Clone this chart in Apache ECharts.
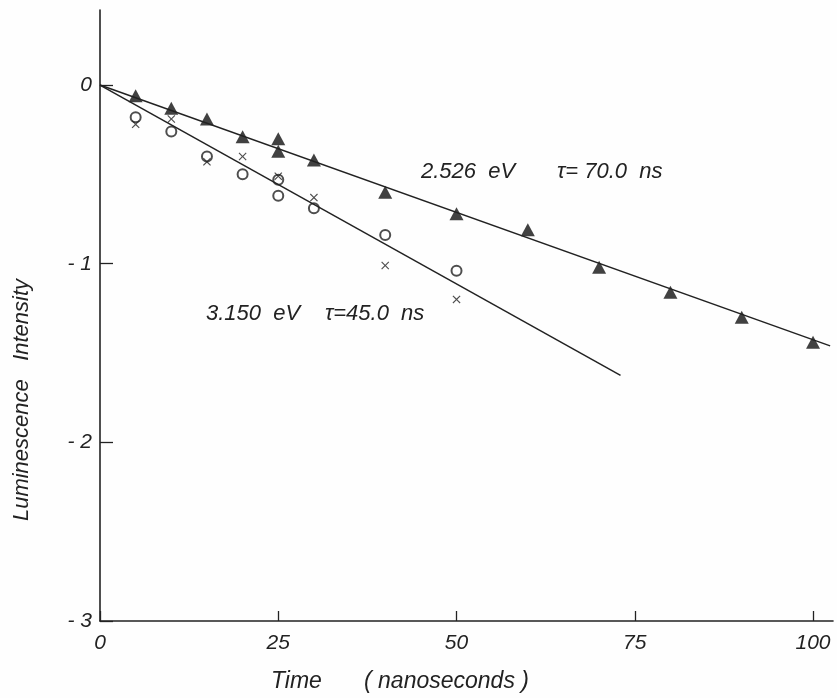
<!DOCTYPE html>
<html>
<head>
    <meta charset="UTF-8">
    <title>Luminescence decay</title>
    <script src="https://cdn.jsdelivr.net/npm/echarts@6/dist/echarts.min.js"></script>
    <style>
        html, body { margin: 0; padding: 0; background: #fefefe; }
        #main { width: 837px; height: 698px; }
    </style>
</head>
<body>
<div id="main"></div>
<script>
    // data
    const xTicks = [0, 25, 50, 75, 100];
    const yTicks = [-3, -2, -1, 0];

    // 2.526 eV (filled triangles)
    const tri = [[5, -0.06], [10, -0.13], [15, -0.19], [20, -0.29], [25, -0.30], [25, -0.37],
        [30, -0.42], [40, -0.60], [50, -0.72], [60, -0.81], [70, -1.02], [80, -1.16],
        [90, -1.30], [100, -1.44]];
    // 3.150 eV (open circles and crosses)
    const circ = [[5, -0.18], [10, -0.26], [15, -0.40], [20, -0.50], [25, -0.53], [25, -0.62],
        [30, -0.69], [40, -0.84], [50, -1.04]];
    const cross = [[5, -0.22], [10, -0.19], [15, -0.43], [20, -0.40], [25, -0.51],
        [30, -0.63], [40, -1.01], [50, -1.20]];
    // fitted lines
    const fit70 = [[0, 0], [102.4, -1.46]];
    const fit45 = [[0, 0], [73, -1.625]];

    const ink = '#222';
    const font = 'Liberation Sans';
    const crossPath = 'path://M1,0 L5,4 L9,0 L10,1 L6,5 L10,9 L9,10 L5,6 L1,10 L0,9 L4,5 L0,1 Z';
    const txt = 'italic 22px "Liberation Sans"';

    let myChart = echarts.init(document.getElementById('main'), null, {renderer: 'canvas'});

    let option = {
        backgroundColor: '#fefefe',
        animation: false,
        grid: {left: 100, right: 4, top: 10, bottom: 77},
        xAxis: {
            type: 'value',
            min: 0,
            max: 102.8,
            interval: 25,
            axisLine: {onZero: false, lineStyle: {color: ink, width: 1.6}},
            axisTick: {inside: true, length: 10, lineStyle: {color: ink, width: 1.3}},
            axisLabel: {
                fontFamily: font, fontStyle: 'italic', fontSize: 21, color: ink, margin: 12,
                showMaxLabel: false,
                formatter: v => xTicks.includes(v) ? String(v) : ''
            },
            splitLine: {show: false}
        },
        yAxis: {
            type: 'value',
            min: -3,
            max: 0.42,
            interval: 1,
            axisLine: {show: true, onZero: false, lineStyle: {color: ink, width: 1.6}},
            axisTick: {show: true, inside: true, length: 13, lineStyle: {color: ink, width: 1.3}},
            axisLabel: {
                fontFamily: font, fontStyle: 'italic', fontSize: 21, color: ink, margin: 8,
                showMaxLabel: false,
                formatter: v => yTicks.includes(v) ? (v === 0 ? '0' : '- ' + Math.abs(v)) : ''
            },
            splitLine: {show: false}
        },
        graphic: [
            {type: 'text', left: 421, top: 161, style: {text: '2.526  eV', font: txt, fill: ink}},
            {type: 'text', left: 557, top: 161, style: {text: 'τ= 70.0  ns', font: txt, fill: ink}},
            {type: 'text', left: 206, top: 303, style: {text: '3.150  eV', font: txt, fill: ink}},
            {type: 'text', left: 325, top: 303, style: {text: 'τ=45.0  ns', font: txt, fill: ink}},
            {type: 'text', left: 271, top: 670, style: {text: 'Time', font: 'italic 23px "Liberation Sans"', fill: ink}},
            {type: 'text', left: 364, top: 670, style: {text: '( nanoseconds )', font: 'italic 23px "Liberation Sans"', fill: ink}},
            {
                type: 'text', x: 22, y: 400, rotation: Math.PI / 2,
                style: {text: 'Luminescence   Intensity', font: 'italic 22px "Liberation Sans"', fill: ink,
                    align: 'center', verticalAlign: 'middle'}
            }
        ],
        series: [
            {
                type: 'line', data: fit70, symbol: 'none', silent: true,
                lineStyle: {color: ink, width: 1.5}
            },
            {
                type: 'line', data: fit45, symbol: 'none', silent: true,
                lineStyle: {color: ink, width: 1.5}
            },
            {
                type: 'scatter', data: tri, symbol: 'triangle', symbolSize: [14, 13],
                itemStyle: {color: '#111'}
            },
            {
                type: 'scatter', data: circ, symbol: 'emptyCircle', symbolSize: 10,
                itemStyle: {color: ink, borderWidth: 1.5}
            },
            {
                type: 'scatter', data: cross, symbol: crossPath, symbolSize: 8,
                itemStyle: {color: ink}
            }
        ]
    };

    myChart.setOption(option);
</script>
</body>
</html>
